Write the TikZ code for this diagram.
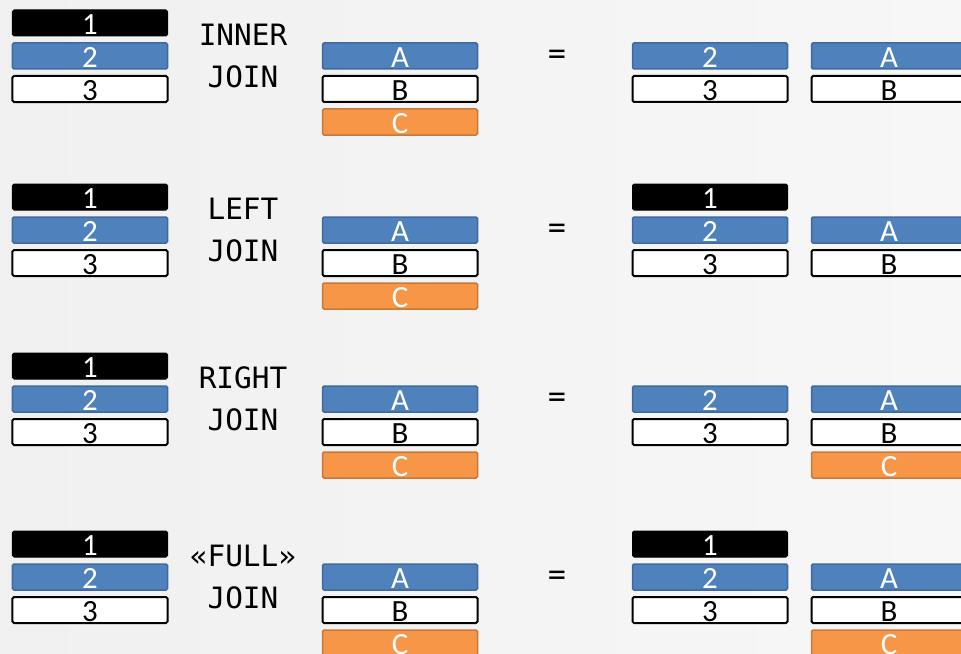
\documentclass[tikz,border=0pt]{standalone}
\usepackage{fontspec}
\setmainfont{Carlito}
\newfontfamily\joinfont{DejaVu Sans Mono}
\usetikzlibrary{positioning}

\definecolor{bgleft}{HTML}{F0F0F0}
\definecolor{bgright}{HTML}{F7F7F7}
\definecolor{cellblue}{HTML}{4F81BD}
\definecolor{cellblueline}{HTML}{3E6A9E}
\definecolor{cellorange}{HTML}{F79646}
\definecolor{cellorangeline}{HTML}{C7793A}

\tikzset{
    cell/.style = {minimum width = 155bp, minimum height = 26bp, inner sep = 0pt,
                   outer sep = 0pt, rounded corners = 1.5bp,
                   text height = 23bp, text depth = 0pt,
                   font = \fontsize{31}{31}\selectfont},
    blackcell/.style = {cell, fill = black, draw = black, text = white, line width = 1bp},
    bluecell/.style = {cell, fill = cellblue, draw = cellblueline, text = white, line width = 1.5bp},
    whitecell/.style = {cell, fill = white, draw = black, text = black, line width = 2bp},
    orangecell/.style = {cell, fill = cellorange, draw = cellorangeline, text = white, line width = 1.5bp},
    joinlabel/.style = {inner sep = 0pt, font = \joinfont\fontsize{29.5}{29.5}\selectfont}
}

\begin{document}
\begin{tikzpicture}[x = 1bp, y = -1bp]
        \clip (0, 0) rectangle (961, 654);
        \fill[left color = bgleft, right color = bgright] (0, 0) rectangle (961, 654);
        % the two tables and the join of each row
        \foreach \r/\y/\kind in {1/23/INNER, 2/197/LEFT, 3/366/RIGHT, 4/544/«FULL»} {
            \node[blackcell] (t\r-1) at (90, \y) {1};
            \node[bluecell, below = 7bp of t\r-1] (t\r-2) {2};
            \node[whitecell, below = 7bp of t\r-2] (t\r-3) {3};
            \node[joinlabel] (kind\r) at (243, \y + 12) {\kind};
            \node[joinlabel] (join\r) at (243, \y + 54) {JOIN};
            \node[bluecell] (s\r-a) at (400, \y + 33) {A};
            \node[whitecell, below = 7bp of s\r-a] (s\r-b) {B};
            \node[orangecell, below = 7bp of s\r-b] (s\r-c) {C};
            \node[joinlabel] (eq\r) at (557, \y + 34) {=};
        }
        % inner
        \node[bluecell] (i-2) at (710, 56) {2};
        \node[whitecell, below = 7bp of i-2] (i-3) {3};
        \node[bluecell] (i-a) at (889, 56) {A};
        \node[whitecell, below = 7bp of i-a] (i-b) {B};
        % left
        \node[blackcell] (l-1) at (710, 197) {1};
        \node[bluecell, below = 7bp of l-1] (l-2) {2};
        \node[whitecell, below = 7bp of l-2] (l-3) {3};
        \node[bluecell] (l-a) at (889, 230) {A};
        \node[whitecell, below = 7bp of l-a] (l-b) {B};
        % right
        \node[bluecell] (r-2) at (710, 399) {2};
        \node[whitecell, below = 7bp of r-2] (r-3) {3};
        \node[bluecell] (r-a) at (889, 399) {A};
        \node[whitecell, below = 7bp of r-a] (r-b) {B};
        \node[orangecell, below = 7bp of r-b] (r-c) {C};
        % full
        \node[blackcell] (f-1) at (710, 544) {1};
        \node[bluecell, below = 7bp of f-1] (f-2) {2};
        \node[whitecell, below = 7bp of f-2] (f-3) {3};
        \node[bluecell] (f-a) at (889, 577) {A};
        \node[whitecell, below = 7bp of f-a] (f-b) {B};
        \node[orangecell, below = 7bp of f-b] (f-c) {C};
    \end{tikzpicture}
\end{document}
